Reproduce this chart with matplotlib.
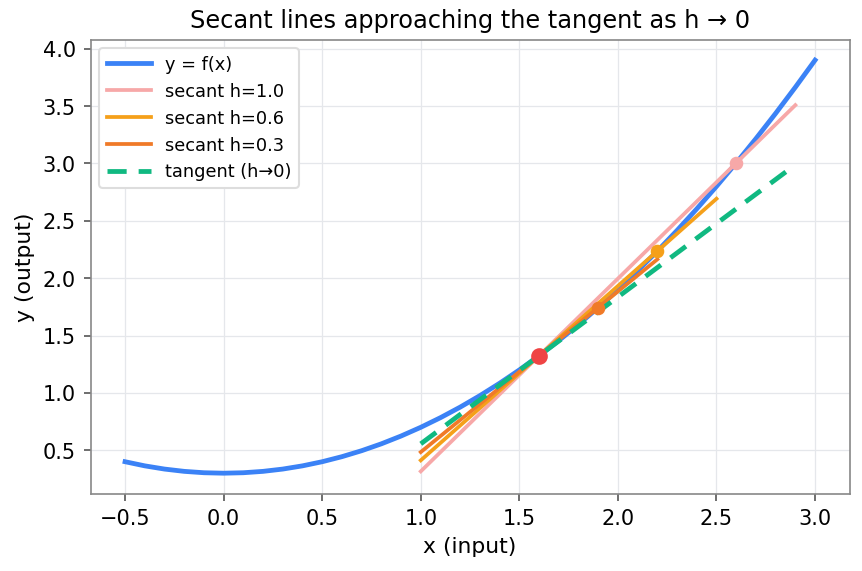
import matplotlib
matplotlib.use("Agg")
import matplotlib.pyplot as plt

# curve samples
curve_x = [-0.5, -0.4, -0.3, -0.2, -0.1, 0.0, 0.1, 0.2, 0.3, 0.4, 0.5, 0.6, 0.7, 0.8, 0.9,
           1.0, 1.1, 1.2, 1.3, 1.4, 1.5, 1.6, 1.7, 1.8, 1.9, 2.0, 2.1, 2.2, 2.3, 2.4, 2.5,
           2.6, 2.7, 2.8, 2.9, 3.0]
curve_y = [0.40, 0.364, 0.336, 0.316, 0.304, 0.30, 0.304, 0.316, 0.336, 0.364, 0.40, 0.444,
           0.496, 0.556, 0.624, 0.70, 0.784, 0.876, 0.976, 1.084, 1.20, 1.324, 1.456, 1.596,
           1.744, 1.90, 2.064, 2.236, 2.416, 2.604, 2.80, 3.004, 3.216, 3.436, 3.664, 3.90]

# secant lines: labels, endpoints, secant points
secant_labels = ["secant h=1.0", "secant h=0.6", "secant h=0.3"]
secant_x0 = [1.0, 1.0, 1.0]
secant_x1 = [2.9, 2.5, 2.2]
secant_y0 = [0.316, 0.412, 0.484]
secant_y1 = [3.508, 2.692, 2.164]
secant_pt_x = [2.6, 2.2, 1.9]
secant_pt_y = [3.004, 2.236, 1.744]
secant_colors = ["#f7a8a8", "#f5a01a", "#f07a28"]

tangent_x = [1.0, 2.9]
tangent_y = [0.556, 2.988]
base_x = 1.6
base_y = 1.324

fig, ax = plt.subplots(figsize=(5.75, 3.81), dpi=150)
ax.plot(curve_x, curve_y, color="#3b82f6", lw=2.3, label="y = f(x)", zorder=3)
for lab, x0, x1, y0, y1, px, py, c in zip(secant_labels, secant_x0, secant_x1, secant_y0,
                                          secant_y1, secant_pt_x, secant_pt_y, secant_colors):
    ax.plot([x0, x1], [y0, y1], color=c, lw=1.8, label=lab, zorder=3)
    ax.plot([px], [py], "o", color=c, ms=5.5, zorder=5)
ax.plot(tangent_x, tangent_y, color="#10b981", lw=2.3, ls=(0, (4, 2.5)), label="tangent (h\u21920)", zorder=4)
ax.plot([base_x], [base_y], "o", color="#ef4444", ms=7, zorder=6)

ax.set_title("Secant lines approaching the tangent as h \u2192 0", fontsize=11.5)
ax.set_xlabel("x (input)", fontsize=10.5)
ax.set_ylabel("y (output)", fontsize=10.5)
ax.tick_params(labelsize=10, color="#555555", length=3.5)
ax.grid(True, color="#e5e7eb", lw=0.6)
ax.set_axisbelow(True)
for s in ax.spines.values():
    s.set_color("#888888")
ax.legend(loc="upper left", fontsize=8.5, framealpha=1, edgecolor="#dddddd", handlelength=2.5)
fig.subplots_adjust(left=0.105, right=0.985, top=0.93, bottom=0.135)
fig.savefig("out.png", dpi=150)
